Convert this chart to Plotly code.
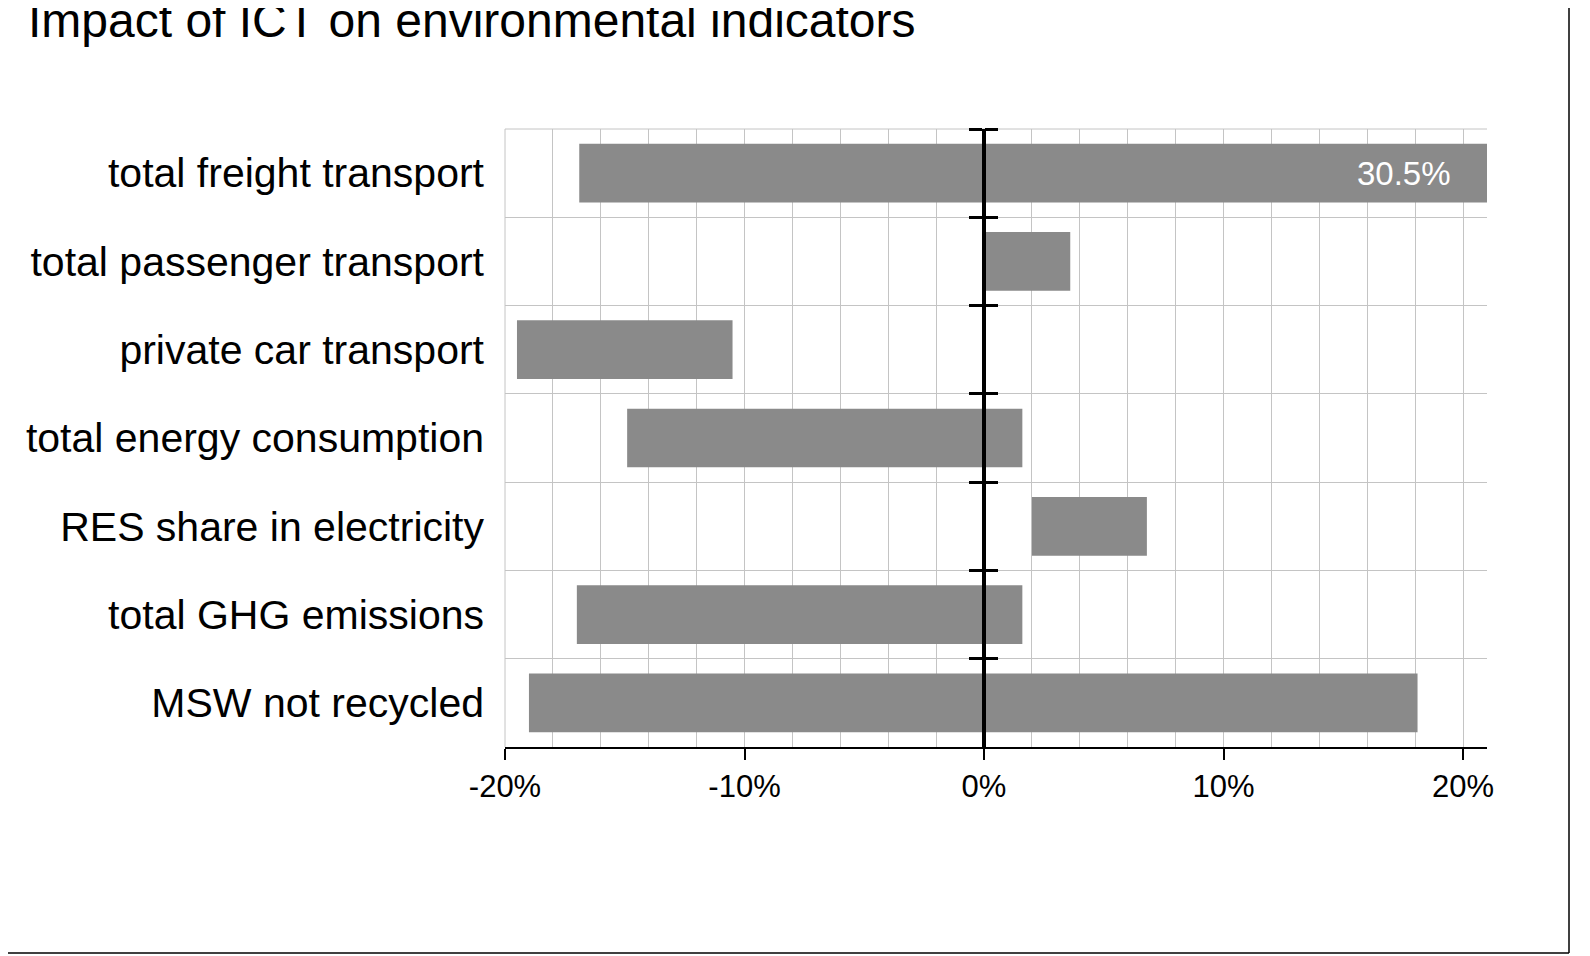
import plotly.graph_objects as go

# ---- data -------------------------------------------------------------
categories = [
    "total freight transport",
    "total passenger transport",
    "private car transport",
    "total energy consumption",
    "RES share in electricity",
    "total GHG emissions",
    "MSW not recycled",
]
low_pct = [-16.9, 0.0, -19.5, -14.9, 2.0, -17.0, -19.0]
high_pct = [30.5, 3.6, -10.5, 1.6, 6.8, 1.6, 18.1]

x_ticks = [-20, -10, 0, 10, 20]
x_tick_labels = ["-20%", "-10%", "0%", "10%", "20%"]
x_range = [-20, 21]
title_text = "Impact of ICT on environmental indicators"

# ---- derived ------------------------------------------------------------
widths = [h - l for l, h in zip(low_pct, high_pct)]
zero_pos = (0 - x_range[0]) / (x_range[1] - x_range[0])

W, H = 1590, 956
ML, MR, MT, MB = 497, 111, 121, 217
pw, ph = W - ML - MR, H - MT - MB

def px_x(px):
    return (px - ML) / pw

def px_y(py):
    return (H - MB - py) / ph

LABEL_FONT = "Liberation Sans, Arial, sans-serif"
NARROW_FONT = "Liberation Sans Narrow, Arial Narrow, Liberation Sans, Arial, sans-serif"
GRID = "#c4c4c4"

fig = go.Figure()

fig.add_trace(go.Bar(
    y=categories,
    x=widths,
    base=low_pct,
    orientation="h",
    marker=dict(color="#8a8a8a", line=dict(width=0)),
    showlegend=False,
    hoverinfo="skip",
))

# invisible helpers so the crossing axis at 0 is drawn
for ax in ("y2", "y3"):
    fig.add_trace(go.Scatter(
        y=categories, x=low_pct, yaxis=ax, mode="markers",
        marker=dict(opacity=0), showlegend=False, hoverinfo="skip",
    ))

# labels for bars running past the axis end
annotations = []
for cat, h in zip(categories, high_pct):
    if h > x_range[1]:
        annotations.append(dict(
            x=x_range[1], y=cat, xref="x", yref="y",
            text=f"{h:.1f}%", showarrow=False,
            xanchor="right", xshift=-34,
            font=dict(family=LABEL_FONT, size=33, color="white"),
        ))

cat_range = [len(categories) - 0.5, -0.5]

fig.update_layout(
    width=W, height=H,
    margin=dict(l=ML, r=MR, t=MT, b=MB),
    paper_bgcolor="white",
    plot_bgcolor="white",
    bargap=0.335,
    annotations=annotations,
    title=dict(
        text=title_text,
        font=dict(family=LABEL_FONT, size=48, color="black"),
        xref="container", yref="container",
        x=20 / W, xanchor="left",
        y=1 - 12 / H, yanchor="middle",
    ),
    xaxis=dict(
        range=x_range,
        tickvals=x_ticks,
        ticktext=x_tick_labels,
        showgrid=True, gridcolor=GRID, gridwidth=1,
        minor=dict(dtick=2, tick0=0, showgrid=True, gridcolor=GRID, gridwidth=1, ticks=""),
        zeroline=False,
        showline=True, linecolor="black", linewidth=1.5,
        ticks="outside", ticklen=11, tickwidth=1.5, tickcolor="black",
        tickfont=dict(family=NARROW_FONT, size=31, color="black"),
        fixedrange=True,
    ),
    yaxis=dict(
        type="category",
        categoryorder="array", categoryarray=categories,
        range=cat_range,
        tickson="boundaries",
        showgrid=True, gridcolor=GRID, gridwidth=1,
        ticks="", showline=False, zeroline=False,
        ticklabelstandoff=20,
        tickfont=dict(family=LABEL_FONT, size=41, color="black"),
    ),
    yaxis2=dict(
        type="category",
        categoryorder="array", categoryarray=categories,
        range=cat_range,
        overlaying="y", anchor="free", position=zero_pos, side="left",
        tickson="boundaries",
        showgrid=False, zeroline=False,
        showline=True, linecolor="black", linewidth=3.5,
        ticks="outside", ticklen=13, tickwidth=3, tickcolor="black",
        showticklabels=False,
    ),
    yaxis3=dict(
        type="category",
        categoryorder="array", categoryarray=categories,
        range=cat_range,
        overlaying="y", anchor="free", position=zero_pos, side="right",
        tickson="boundaries",
        showgrid=False, zeroline=False,
        showline=False,
        ticks="outside", ticklen=13, tickwidth=3, tickcolor="black",
        showticklabels=False,
    ),
    shapes=[
        # plot-area top and left grid edges
        dict(type="line", xref="paper", yref="paper", layer="below",
             x0=0, x1=1, y0=1, y1=1, line=dict(color=GRID, width=1)),
        dict(type="line", xref="paper", yref="paper", layer="below",
             x0=0, x1=0, y0=0, y1=1, line=dict(color=GRID, width=1)),
        # outer frame (right and bottom)
        dict(type="line", xref="paper", yref="paper",
             x0=px_x(1561), x1=px_x(1561), y0=px_y(-5), y1=px_y(945),
             line=dict(color="black", width=1.5)),
        dict(type="line", xref="paper", yref="paper",
             x0=px_x(-5), x1=px_x(1561), y0=px_y(945), y1=px_y(945),
             line=dict(color="black", width=1.5)),
    ],
)

fig.write_html("out.html")
